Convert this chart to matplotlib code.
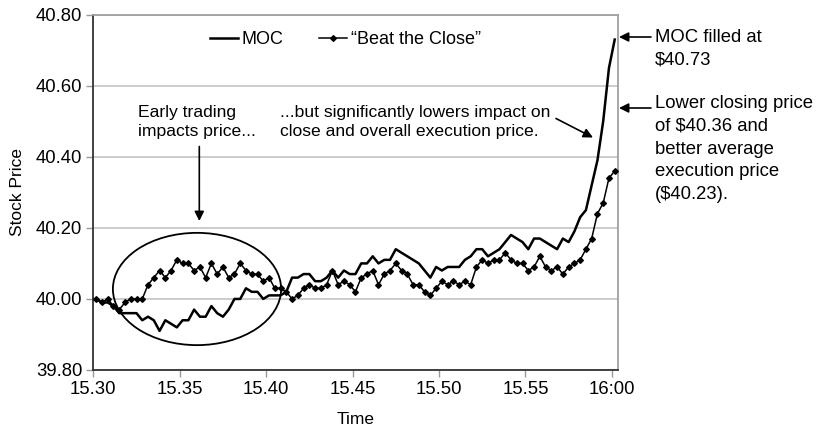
import numpy as np
import matplotlib
matplotlib.use("Agg")
import matplotlib.pyplot as plt
from matplotlib.patches import Ellipse

plt.rcParams['font.family'] = ['Liberation Sans', 'DejaVu Sans']

# ---- data (20-second snapshots, 15:30 to 16:00) ----
moc = [40.00, 39.99, 39.99, 39.98, 39.96, 39.96, 39.96, 39.96, 39.94, 39.95,
       39.94, 39.91, 39.94, 39.93, 39.92, 39.94, 39.94, 39.97, 39.95, 39.95,
       39.98, 39.96, 39.95, 39.97, 40.00, 40.00, 40.03, 40.02, 40.02, 40.00,
       40.01, 40.01, 40.01, 40.02, 40.06, 40.06, 40.07, 40.07, 40.05, 40.05,
       40.06, 40.08, 40.06, 40.08, 40.07, 40.07, 40.10, 40.10, 40.12, 40.10,
       40.11, 40.11, 40.14, 40.13, 40.12, 40.11, 40.10, 40.08, 40.06, 40.09,
       40.08, 40.09, 40.09, 40.09, 40.11, 40.12, 40.14, 40.14, 40.12, 40.13,
       40.14, 40.16, 40.18, 40.17, 40.16, 40.14, 40.17, 40.17, 40.16, 40.15,
       40.14, 40.17, 40.16, 40.19, 40.23, 40.25, 40.32, 40.39, 40.50, 40.65,
       40.73]
btc = [40.00, 39.99, 40.00, 39.98, 39.97, 39.99, 40.00, 40.00, 40.00, 40.04,
       40.06, 40.08, 40.06, 40.08, 40.11, 40.10, 40.10, 40.08, 40.09, 40.06,
       40.10, 40.07, 40.09, 40.06, 40.07, 40.10, 40.08, 40.07, 40.07, 40.05,
       40.06, 40.03, 40.03, 40.02, 40.00, 40.01, 40.03, 40.04, 40.03, 40.03,
       40.04, 40.08, 40.04, 40.05, 40.04, 40.02, 40.06, 40.07, 40.08, 40.04,
       40.07, 40.08, 40.10, 40.08, 40.07, 40.04, 40.04, 40.02, 40.01, 40.03,
       40.05, 40.04, 40.05, 40.04, 40.05, 40.04, 40.09, 40.11, 40.10, 40.11,
       40.11, 40.13, 40.11, 40.10, 40.10, 40.08, 40.09, 40.12, 40.09, 40.08,
       40.09, 40.07, 40.09, 40.10, 40.11, 40.14, 40.17, 40.24, 40.27, 40.34,
       40.36]
x_tick_labels = ["15.30", "15.35", "15.40", "15.45", "15.50", "15.55", "16:00"]
y_ticks = [39.80, 40.00, 40.20, 40.40, 40.60, 40.80]

W, H = 818, 430
fig = plt.figure(figsize=(W / 100, H / 100), dpi=100)
ax = fig.add_axes([93.3 / W, 1 - 370 / H, (617.6 - 93.3) / W, (370 - 14.7) / H])

n = len(moc)
x = np.arange(n)
ax.plot(x, moc, color='black', lw=1.8, label='MOC', zorder=3)
ax.plot(x, btc, color='black', lw=1.1, marker='D', ms=2.9, label='\u201cBeat the Close\u201d', zorder=3)

ax.set_xlim(-0.5, n - 0.5)
ax.set_ylim(39.80, 40.80)
ax.set_xticks(np.arange(-0.5, n, 15))
ax.set_xticklabels(x_tick_labels)
ax.set_yticks(y_ticks)
ax.set_yticklabels([f"{v:.2f}" for v in y_ticks])
ax.yaxis.grid(True, color='#c8c8c8', lw=1.3)
ax.set_axisbelow(True)
for s in ['left', 'bottom']:
    ax.spines[s].set_color('#333333')
    ax.spines[s].set_linewidth(1.3)
for s in ['top', 'right']:
    ax.spines[s].set_color('#a0a0a0')
    ax.spines[s].set_linewidth(1.3)
ax.tick_params(axis='both', labelsize=13.3, color='#999999', length=5, width=1, pad=3)
ax.set_ylabel('Stock Price', fontsize=12.5, labelpad=8)
ax.set_xlabel('Time', fontsize=12.5, labelpad=10)

leg = ax.legend(loc='center left', bbox_to_anchor=(0.222, (370 - 40) / 355.3), ncol=2, frameon=False,
                fontsize=13, handlelength=1.55, handletextpad=0.2, columnspacing=2.0,
                borderaxespad=0, borderpad=0, numpoints=1)

# ellipse around early trading
ax.add_patch(Ellipse((17.5, 40.028), 29.2, 0.316, fill=False, ec='black', lw=1.3, zorder=4))

def fpt(px, py):
    return (px / W, 1 - py / H)

fig.text(*fpt(138, 122), 'Early trading\nimpacts price...', fontsize=12.6, va='center', ha='left', linespacing=1.27)
fig.text(*fpt(279.5, 122), '...but significantly lowers impact on\nclose and overall execution price.',
         fontsize=12.6, va='center', ha='left', linespacing=1.27)
fig.text(*fpt(655, 48.5), 'MOC filled at\n$40.73', fontsize=13.3, va='center', ha='left', linespacing=1.45)
fig.text(*fpt(655, 149), 'Lower closing price\nof $40.36 and\nbetter average\nexecution price\n($40.23).',
         fontsize=13.3, va='center', ha='left', linespacing=1.45)

arrow = dict(arrowstyle='-|>', color='black', lw=1.2, mutation_scale=14, shrinkA=0, shrinkB=0)
ax.annotate('', xy=fpt(199.3, 221), xytext=fpt(199.3, 146.5), xycoords='figure fraction',
            textcoords='figure fraction', arrowprops=arrow)
ax.annotate('', xy=fpt(593, 137.5), xytext=fpt(556, 118.5), xycoords='figure fraction',
            textcoords='figure fraction', arrowprops=arrow)
ax.annotate('', xy=fpt(619, 37), xytext=fpt(651, 37), xycoords='figure fraction',
            textcoords='figure fraction', arrowprops=arrow, annotation_clip=False)
ax.annotate('', xy=fpt(619, 108), xytext=fpt(651, 108), xycoords='figure fraction',
            textcoords='figure fraction', arrowprops=arrow, annotation_clip=False)

fig.savefig('out.png', dpi=100)
